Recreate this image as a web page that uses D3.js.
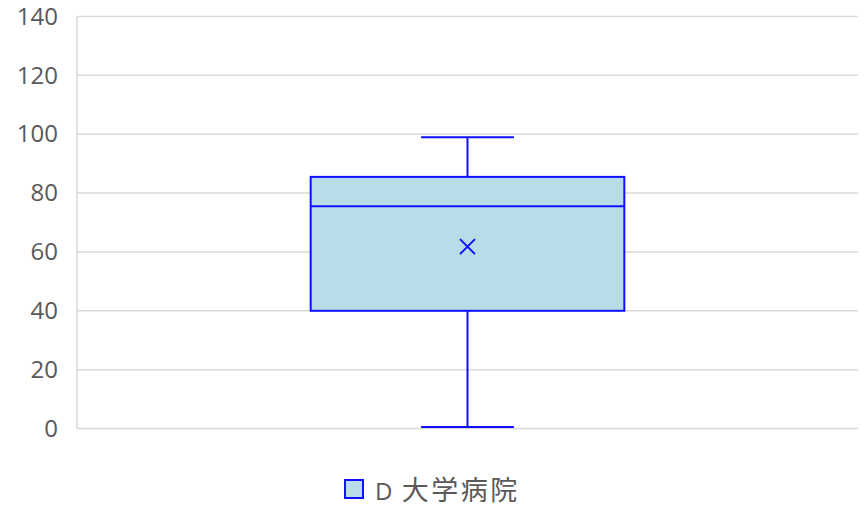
<!DOCTYPE html>
<html>
<head>
<meta charset="utf-8">
<script src="https://cdn.jsdelivr.net/npm/d3@7"></script>
<style>
  html, body { margin: 0; padding: 0; background: #fff; }
  text { font-family: "Open Sans", "Noto Sans CJK JP", sans-serif; fill: #595959; }
</style>
</head>
<body>
<svg id="chart" width="866" height="507"></svg>
<script>
// data
var categories = ['D 大学病院'];
var mins = [0.5];
var q1s = [40];
var medians = [75.5];
var q3s = [85.5];
var maxs = [99];
var means = [61.8];
var yTicks = [0, 20, 40, 60, 80, 100, 120, 140];

var width = 866, height = 507;
var margin = { top: 16.5, right: 8, bottom: 78.5, left: 77 };
var innerW = width - margin.left - margin.right,
    innerH = height - margin.top - margin.bottom;

var svg = d3.select('#chart');
var g = svg.append('g').attr('transform', 'translate(' + margin.left + ',' + margin.top + ')');

var y = d3.scaleLinear().domain([0, 140]).range([innerH, 0]);
var x = d3.scaleBand().domain(categories).range([0, innerW]).paddingInner(0).paddingOuter(0.745);

// gridlines
g.selectAll('line.grid')
  .data(yTicks)
  .enter().append('line')
  .attr('class', 'grid')
  .attr('x1', 0).attr('x2', innerW)
  .attr('y1', function(d) { return y(d); })
  .attr('y2', function(d) { return y(d); })
  .style('stroke', '#d9d9d9')
  .style('stroke-width', 1.5);

// left axis line
g.append('line')
  .attr('x1', 0).attr('x2', 0)
  .attr('y1', y(0)).attr('y2', y(140))
  .style('stroke', '#d9d9d9')
  .style('stroke-width', 1.5);

// y axis labels
var yAxis = d3.axisLeft(y).tickValues(yTicks).tickSize(0).tickPadding(19);
var ax = g.append('g').call(yAxis);
ax.select('path.domain').remove();
ax.selectAll('text')
  .style('font-size', '24px')
  .style('fill', '#595959')
  .style('font-family', '"Open Sans", sans-serif');

// boxes
var stroke = '#1010ff';
categories.forEach(function(c, i) {
  var bx = x(c), bw = x.bandwidth(), cx = bx + bw / 2;
  var capW = bw * 0.296;

  // whiskers
  g.append('line')
    .attr('x1', cx).attr('x2', cx)
    .attr('y1', y(maxs[i])).attr('y2', y(q3s[i]))
    .style('stroke', stroke).style('stroke-width', 2);
  g.append('line')
    .attr('x1', cx).attr('x2', cx)
    .attr('y1', y(q1s[i])).attr('y2', y(mins[i]))
    .style('stroke', stroke).style('stroke-width', 2);
  [maxs[i], mins[i]].forEach(function(v) {
    g.append('line')
      .attr('x1', cx - capW / 2).attr('x2', cx + capW / 2)
      .attr('y1', y(v)).attr('y2', y(v))
      .style('stroke', stroke).style('stroke-width', 2);
  });

  // box
  g.append('rect')
    .attr('x', bx).attr('width', bw)
    .attr('y', y(q3s[i])).attr('height', y(q1s[i]) - y(q3s[i]))
    .style('fill', '#b8dde8')
    .style('stroke', stroke).style('stroke-width', 2);

  // median
  g.append('line')
    .attr('x1', bx).attr('x2', bx + bw)
    .attr('y1', y(medians[i])).attr('y2', y(medians[i]))
    .style('stroke', stroke).style('stroke-width', 2);

  // mean marker
  var my = y(means[i]), s = 7.5;
  g.append('path')
    .attr('d', 'M' + (cx - s) + ',' + (my - s) + 'L' + (cx + s) + ',' + (my + s) +
               'M' + (cx - s) + ',' + (my + s) + 'L' + (cx + s) + ',' + (my - s))
    .style('stroke', stroke).style('stroke-width', 2).style('fill', 'none');
});

// legend
var lg = svg.append('g').attr('transform', 'translate(345,480)');
lg.append('rect')
  .attr('x', 0).attr('y', 0).attr('width', 18).attr('height', 18)
  .style('fill', '#b8dde8').style('stroke', stroke).style('stroke-width', 2);
var parts = categories[0].split(' ');
var lt = lg.append('text')
  .attr('x', 30).attr('y', 20)
  .style('font-size', '24px');
lt.append('tspan').text(parts[0] + ' ');
lt.append('tspan')
  .attr('dx', 3)
  .style('font-size', '27px')
  .style('letter-spacing', '2.5px')
  .text(parts[1]);
</script>
</body>
</html>
